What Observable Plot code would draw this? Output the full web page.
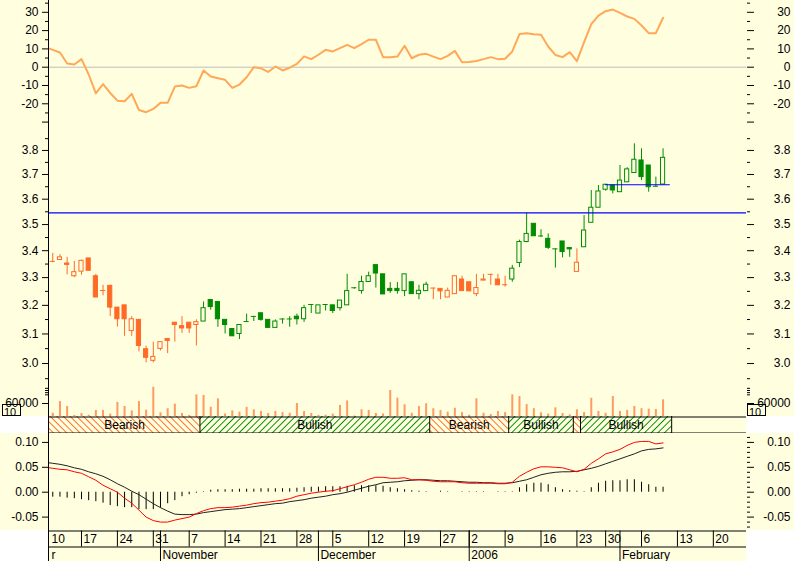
<!DOCTYPE html>
<html><head><meta charset="utf-8">
<script src="https://cdn.jsdelivr.net/npm/d3@7"></script>
<script src="https://cdn.jsdelivr.net/npm/@observablehq/plot@0.6"></script>
<style>
html,body{margin:0;padding:0;background:#fff;}
#chart{position:relative;width:794px;height:561px;overflow:hidden;background:#fff;font-family:"Liberation Sans",Arial,sans-serif;}
</style></head><body><div id="chart"></div>
<script>
// ---------------- DATA (trading-day index t: Oct 10 2005 = 0) ----------------
const momentum = [11, 9.5, 8, 2, 1.5, 4.4, -4, -14.3, -9.2, -14.1,
  -18.3, -18.6, -14.6, -23.4, -24.6, -22.8, -19.5, -19.5, -10.6, -10,
  -11.3, -10.4, -1.8, -5.1, -6, -6.9, -11.3, -9.5, -5.5, 0,
  -0.6, -2.6, 0.4, -1.8, -0.3, 1.8, 5.9, 4.4, 6.8, 9.5,
  8.6, 10.4, 12.2, 10.4, 12.6, 15, 15, 5.5, 5.5, 5.8,
  11.7, 4.9, 6.8, 7.3, 5.8, 4.4, 6.2, 8.9, 2.7, 2.9,
  3.4, 4.4, 5.5, 4.4, 4.6, 8.6, 18.1, 18.6, 18, 17.7,
  11.3, 6.7, 5.5, 8.2, 3.3, 13.7, 23.5, 28.2, 30.6, 31.5,
  29.7, 27.7, 26.4, 22.8, 18.6, 18.6, 27];

// candles t = 1..86
const opens = [3.36, 3.365, 3.352, 3.305, 3.322, 3.371, 3.305, 3.253, 3.27, 3.192,
  3.2, 3.11, 3.149, 3.048, 3.009, 3.049, 3.083, 3.139, 3.127, 3.139,
  3.131, 3.143, 3.219, 3.212, 3.149, 3.117, 3.10, 3.143, 3.161, 3.172,
  3.149, 3.121, 3.152, 3.152, 3.16, 3.151, 3.203, 3.171, 3.203, 3.2,
  3.19, 3.2, 3.263, 3.251, 3.284, 3.346, 3.312, 3.259, 3.259, 3.251,
  3.283, 3.24, 3.251, 3.262, 3.259, 3.228, 3.24, 3.293, 3.283, 3.24,
  3.289, 3.312, 3.293, 3.274, 3.293, 3.354, 3.433, 3.503, 3.456, 3.445,
  3.407, 3.435, 3.41, 3.321, 3.413, 3.507, 3.566, 3.638, 3.655, 3.628,
  3.668, 3.706, 3.758, 3.737, 3.652, 3.659];
const highs = [3.39, 3.385, 3.375, 3.36, 3.365, 3.371, 3.312, 3.272, 3.272, 3.192,
  3.2, 3.16, 3.149, 3.058, 3.072, 3.072, 3.083, 3.139, 3.16, 3.139,
  3.149, 3.212, 3.219, 3.212, 3.149, 3.117, 3.131, 3.169, 3.161, 3.172,
  3.149, 3.149, 3.152, 3.16, 3.169, 3.2, 3.203, 3.2, 3.203, 3.2,
  3.217, 3.312, 3.263, 3.305, 3.32, 3.346, 3.312, 3.282, 3.282, 3.312,
  3.283, 3.272, 3.283, 3.262, 3.259, 3.262, 3.305, 3.305, 3.283, 3.312,
  3.312, 3.312, 3.312, 3.305, 3.345, 3.44, 3.545, 3.503, 3.48, 3.464,
  3.407, 3.435, 3.41, 3.407, 3.535, 3.635, 3.655, 3.66, 3.655, 3.737,
  3.728, 3.828, 3.807, 3.737, 3.689, 3.807];
const lows = [3.355, 3.365, 3.31, 3.30, 3.309, 3.325, 3.228, 3.234, 3.161, 3.124,
  3.092, 3.092, 3.039, 3.002, 3.002, 3.042, 3.033, 3.072, 3.102, 3.102,
  3.059, 3.143, 3.183, 3.123, 3.10, 3.092, 3.081, 3.143, 3.143, 3.144,
  3.121, 3.121, 3.134, 3.123, 3.131, 3.14, 3.171, 3.171, 3.18, 3.171,
  3.18, 3.2, 3.258, 3.24, 3.284, 3.262, 3.239, 3.243, 3.24, 3.231,
  3.24, 3.22, 3.251, 3.22, 3.22, 3.228, 3.24, 3.251, 3.25, 3.231,
  3.289, 3.272, 3.272, 3.265, 3.283, 3.337, 3.43, 3.455, 3.45, 3.405,
  3.335, 3.373, 3.375, 3.321, 3.413, 3.507, 3.566, 3.632, 3.621, 3.628,
  3.668, 3.706, 3.675, 3.628, 3.648, 3.659];
const closes = [3.36, 3.375, 3.347, 3.32, 3.362, 3.325, 3.228, 3.253, 3.192, 3.151,
  3.151, 3.151, 3.059, 3.019, 3.022, 3.072, 3.076, 3.131, 3.119, 3.119,
  3.141, 3.19, 3.194, 3.151, 3.131, 3.092, 3.131, 3.143, 3.161, 3.149,
  3.121, 3.143, 3.152, 3.152, 3.151, 3.19, 3.203, 3.2, 3.203, 3.18,
  3.217, 3.251, 3.263, 3.284, 3.305, 3.315, 3.239, 3.251, 3.251, 3.312,
  3.24, 3.252, 3.274, 3.262, 3.25, 3.252, 3.305, 3.251, 3.25, 3.262,
  3.293, 3.312, 3.272, 3.274, 3.333, 3.433, 3.464, 3.455, 3.456, 3.411,
  3.407, 3.395, 3.405, 3.355, 3.477, 3.566, 3.631, 3.658, 3.635, 3.675,
  3.721, 3.761, 3.689, 3.648, 3.652, 3.769];
const volumes = [15000, 69000, 46000, 5000, 14000, 6000, 28000, 28000, 11000, 65000,
  46000, 26000, 69000, 29000, 135000, 17000, 36000, 57000, 14000, 5000,
  100000, 97000, 43000, 82000, 12000, 26000, 20000, 42000, 31000, 23000,
  14000, 23000, 18000, 15000, 60000, 23000, 14000, 5000, 6000, 11000,
  51000, 72000, 2000, 31000, 28000, 14000, 12000, 120000, 85000, 54000,
  15000, 46000, 59000, 36000, 28000, 20000, 38000, 18000, 6000, 82000,
  15000, 9000, 23000, 18000, 100000, 92000, 55000, 36000, 17000, 11000,
  40000, 14000, 8000, 31000, 18000, 84000, 23000, 15000, 92000, 23000,
  28000, 46000, 36000, 34000, 32000, 77000];

// support / resistance levels
const levels = [{price: 3.546, from: null, to: null}, {price: 3.658, from: 78, to: 87}];

// trend bands (edges in t)
const bands = [
  {from: 0.5, to: 21.5, kind: "bear", label: "Bearish"},
  {from: 21.5, to: 53.5, kind: "bull", label: "Bullish"},
  {from: 53.5, to: 64.5, kind: "bear", label: "Bearish"},
  {from: 64.5, to: 73.5, kind: "bull", label: "Bullish"},
  {from: 73.5, to: 74.5, kind: "bear", label: ""},
  {from: 74.5, to: 87.2, kind: "bull", label: "Bullish"}];

// MACD t = 0..86, histogram t = 1..86
const macd = [0.050, 0.048, 0.046, 0.045, 0.041, 0.038, 0.031, 0.024, 0.014, 0.007,
  0.000, -0.012, -0.022, -0.036, -0.050, -0.057, -0.060, -0.060, -0.056, -0.053,
  -0.050, -0.043, -0.037, -0.033, -0.031, -0.031, -0.030, -0.028, -0.026, -0.023,
  -0.021, -0.020, -0.018, -0.016, -0.013, -0.008, -0.005, -0.002, 0.000, 0.002,
  0.003, 0.007, 0.011, 0.015, 0.020, 0.026, 0.030, 0.030, 0.028, 0.028,
  0.029, 0.025, 0.025, 0.024, 0.022, 0.021, 0.021, 0.021, 0.019, 0.018,
  0.018, 0.018, 0.018, 0.017, 0.017, 0.020, 0.032, 0.040, 0.047, 0.051,
  0.051, 0.050, 0.049, 0.045, 0.041, 0.046, 0.058, 0.067, 0.077, 0.081,
  0.086, 0.094, 0.100, 0.102, 0.102, 0.097, 0.099];
const signal = [0.060, 0.058, 0.056, 0.053, 0.049, 0.046, 0.041, 0.037, 0.032, 0.025,
  0.017, 0.010, 0.002, -0.005, -0.014, -0.023, -0.031, -0.038, -0.044, -0.045,
  -0.045, -0.044, -0.041, -0.039, -0.037, -0.035, -0.034, -0.033, -0.031, -0.029,
  -0.027, -0.025, -0.023, -0.022, -0.019, -0.017, -0.015, -0.012, -0.010, -0.008,
  -0.005, -0.003, 0.000, 0.004, 0.008, 0.012, 0.015, 0.019, 0.020, 0.021,
  0.023, 0.024, 0.025, 0.025, 0.024, 0.023, 0.023, 0.022, 0.021, 0.020,
  0.020, 0.019, 0.019, 0.018, 0.018, 0.019, 0.022, 0.025, 0.030, 0.035,
  0.038, 0.040, 0.041, 0.041, 0.042, 0.045, 0.048, 0.052, 0.057, 0.062,
  0.067, 0.072, 0.077, 0.083, 0.086, 0.087, 0.089];
const hist = [-0.010, -0.010, -0.012, -0.013, -0.015, -0.017, -0.019, -0.022, -0.027, -0.029,
  -0.031, -0.031, -0.035, -0.035, -0.035, -0.032, -0.023, -0.017, -0.009, -0.005,
  -0.002, 0.001, 0.004, 0.005, 0.005, 0.005, 0.006, 0.006, 0.006, 0.007,
  0.007, 0.007, 0.007, 0.007, 0.008, 0.009, 0.010, 0.010, 0.011, 0.011,
  0.011, 0.012, 0.013, 0.013, 0.013, 0.013, 0.012, 0.009, 0.007, 0.005,
  0.003, 0.002, 0.001, 0.000, 0.002, 0.001, 0.000, 0.001, 0.001, 0.001,
  0.001, 0.000, 0.001, 0.001, 0.001, 0.009, 0.015, 0.018, 0.018, 0.015,
  0.009, 0.005, 0.003, 0.002, 0.001, 0.009, 0.018, 0.022, 0.023, 0.023,
  0.025, 0.025, 0.020, 0.015, 0.010, 0.010];

// axis labels
const dayTicks = [{t: 0, label: "10"}, {t: 5, label: "17"}, {t: 10, label: "24"}, {t: 15, label: "31"},
  {t: 20, label: "7"}, {t: 25, label: "14"}, {t: 30, label: "21"}, {t: 35, label: "28"},
  {t: 40, label: "5"}, {t: 45, label: "12"}, {t: 50, label: "19"}, {t: 55, label: "27"},
  {t: 59, label: "2"}, {t: 64, label: "9"}, {t: 69, label: "16"}, {t: 74, label: "23"},
  {t: 78, label: "30"}, {t: 83, label: "6"}, {t: 88, label: "13"}, {t: 93, label: "20"}];
const months = [{t: null, label: "r"}, {t: 16, label: "November"}, {t: 38, label: "December"},
  {t: 59, label: "2006"}, {t: 80, label: "February"}];

const momMajor = [-30, -20, -10, 0, 10, 20, 30];
const momMinor = [-25, -15, -5, 5, 15, 25, 35];
const priceMajor = [3.0, 3.1, 3.2, 3.3, 3.4, 3.5, 3.6, 3.7, 3.8];
const priceMinor = [2.95, 3.05, 3.15, 3.25, 3.35, 3.45, 3.55, 3.65, 3.75, 3.85];
const volMajor = [60000];
const volMinor = [100000, 110000, 120000, 130000];
const macdMajor = [-0.05, 0, 0.05, 0.10];
const macdMinor = [-0.07, -0.06, -0.04, -0.03, -0.02, -0.01, 0.01, 0.02, 0.03, 0.04, 0.06, 0.07, 0.08, 0.09, 0.11];

// ---------------- STYLE ----------------
const BG = "#FFFFE0", ORANGE = "#FF6A26", GREEN = "#008C00";
const FONT = '"Liberation Sans", Arial, sans-serif';
const W = 794, ML = 48, MR = 48;
const xDomain = [0.404, 97.62];

const chart = document.getElementById("chart");
chart.insertAdjacentHTML("beforeend", `
<svg width="0" height="0" style="position:absolute">
 <defs>
  <pattern id="hBear" patternUnits="userSpaceOnUse" width="4.7" height="20" patternTransform="rotate(-45)">
   <line x1="2" y1="-1" x2="2" y2="21" stroke="${ORANGE}" stroke-width="1" shape-rendering="crispEdges"/>
  </pattern>
  <pattern id="hBull" patternUnits="userSpaceOnUse" width="4.7" height="20" patternTransform="rotate(45)">
   <line x1="2" y1="-1" x2="2" y2="21" stroke="${GREEN}" stroke-width="1" shape-rendering="crispEdges"/>
  </pattern>
 </defs>
</svg>`);

function place(el, top) {
  el.style.position = "absolute"; el.style.left = "0px"; el.style.top = top + "px";
  chart.appendChild(el);
}
const base = (h, bg) => ({
  width: W, height: h, marginLeft: ML, marginRight: MR, marginTop: 0, marginBottom: 0,
  x: {domain: xDomain, axis: null},
  style: {background: bg, fontFamily: FONT, fontSize: "12px", color: "black"}
});
const leftAxis = (ticks, fmt) => Plot.axisY(ticks, {anchor: "left", tickSize: 6, tickPadding: 4, fontSize: 12, label: null, tickFormat: fmt});
const rightAxis = (ticks, fmt) => Plot.axisY(ticks, {anchor: "right", tickSize: 7, tickPadding: 37, textAnchor: "end", fontSize: 12, label: null, tickFormat: fmt});
const leftMinor = ticks => Plot.axisY(ticks, {anchor: "left", tickSize: 3, label: null, tickFormat: () => ""});
const rightMinor = ticks => Plot.axisY(ticks, {anchor: "right", tickSize: 3, label: null, tickFormat: () => ""});
const axisLine = () => Plot.ruleX([xDomain[0]], {stroke: "black"});

// ---------------- PANEL A: momentum ----------------
const momData = momentum.map((v, t) => ({t, v}));
const momFmt = d => d === -30 ? "" : String(d);
place(Plot.plot({
  ...base(130, BG),
  y: {domain: [-34.6, 36.45]},
  marks: [
    Plot.ruleY([0], {stroke: "#BDBDBD"}),
    Plot.line(momData, {x: "t", y: "v", stroke: "#FFA858", strokeWidth: 2, clip: true}),
    axisLine(),
    leftAxis(momMajor, momFmt), leftMinor(momMinor),
    rightAxis(momMajor, momFmt), rightMinor(momMinor)
  ]
}), 0);

// ---------------- PANEL B: price candles ----------------
const regime = t => bands.find(b => t > b.from && t < b.to).kind;
const candles = opens.map((o, i) => ({t: i + 1, open: o, high: highs[i], low: lows[i], close: closes[i]}));
candles.forEach(c => { c.color = regime(c.t) === "bear" ? ORANGE : GREEN; });
const isDoji = c => Math.abs(c.open - c.close) < 0.002;
const HW = 0.29;
const priceFmt = d => d.toFixed(1);
place(Plot.plot({
  ...base(254, BG),
  y: {type: "log", domain: [2.931, 3.885]},
  marks: [
    Plot.ruleX(candles, {x: "t", y1: "low", y2: "high", stroke: "color", strokeWidth: 1}),
    Plot.rect(candles.filter(c => !isDoji(c)), {
      x1: d => d.t - HW, x2: d => d.t + HW, y1: "open", y2: "close",
      stroke: "color", strokeWidth: 1,
      fill: d => d.close < d.open ? d.color : BG
    }),
    Plot.ruleY(candles.filter(isDoji), {x1: d => d.t - HW - 0.07, x2: d => d.t + HW + 0.07, y: "open", stroke: "color"}),
    Plot.ruleY(levels.filter(l => l.from === null), {y: "price", stroke: "#0000FF", strokeWidth: 1.2}),
    Plot.ruleY(levels.filter(l => l.from !== null), {y: "price", x1: "from", x2: "to", stroke: "#0000FF", strokeWidth: 1.2}),
    axisLine(),
    leftAxis(priceMajor, priceFmt), leftMinor(priceMinor),
    rightAxis(priceMajor, priceFmt), rightMinor(priceMinor)
  ]
}), 130);

// ---------------- PANEL C: volume ----------------
const volData = volumes.map((v, i) => ({t: i + 1, v}));
place(Plot.plot({
  ...base(32, BG),
  y: {domain: [0, 147700]},
  marks: [
    Plot.ruleX(volData, {x: "t", y1: 0, y2: "v", stroke: "#FF9A62", strokeWidth: 2}),
    axisLine(),
    leftAxis(volMajor, d => String(d)), leftMinor(volMinor),
    rightAxis(volMajor, d => String(d)), rightMinor(volMinor)
  ]
}), 384);

// ---------------- PANEL D: trend bands ----------------
place(Plot.plot({
  ...base(17, "transparent"),
  y: {domain: [0, 1], range: [0.5, 16.5], axis: null},
  marks: [
    Plot.frame({fill: BG, stroke: "none"}),
    Plot.rect(bands.filter(b => b.kind === "bear"), {x1: "from", x2: "to", fill: "url(#hBear)"}),
    Plot.rect(bands.filter(b => b.kind === "bull"), {x1: "from", x2: "to", fill: "url(#hBull)"}),
    Plot.ruleX(bands, {x: "to", stroke: "black"}),
    Plot.ruleY([0, 1], {stroke: "black"}),
    axisLine(),
    Plot.text(bands, {x: d => (d.from + d.to) / 2, text: "label", fontSize: 12, fill: "black"})
  ]
}), 416);

// ---------------- PANEL E: MACD ----------------
const macdData = macd.map((v, t) => ({t, v}));
const sigData = signal.map((v, t) => ({t, v}));
const histData = hist.map((v, i) => ({t: i + 1, v}));
const macdFmt = d => d.toFixed(2);
place(Plot.plot({
  ...base(97, BG),
  y: {domain: [-0.0769, 0.1179]},
  marks: [
    Plot.ruleX(histData, {x: "t", y1: 0, y2: "v", stroke: "black", strokeWidth: 1}),
    Plot.line(sigData, {x: "t", y: "v", stroke: "#202020", strokeWidth: 1, clip: true}),
    Plot.line(macdData, {x: "t", y: "v", stroke: "#FF0000", strokeWidth: 1, clip: true}),
    axisLine(),
    leftAxis(macdMajor, macdFmt),
    rightAxis(macdMajor, macdFmt), rightMinor(macdMinor)
  ]
}), 433);

// ---------------- PANEL F: date axis ----------------
const inX = t => t >= xDomain[0] && t <= xDomain[1];
place(Plot.plot({
  ...base(31, "transparent"),
  y: {domain: [0, 2], range: [0.5, 32.5], axis: null},
  marks: [
    Plot.frame({fill: BG, stroke: "none"}),
    Plot.ruleY([0, 1], {stroke: "black"}),
    axisLine(),
    Plot.ruleX(dayTicks.filter(d => inX(d.t)), {x: "t", y1: 0, y2: 1, stroke: "black"}),
    Plot.ruleX(months.filter(m => m.t !== null), {x: "t", y1: 0, y2: 2, stroke: "black"}),
    Plot.text(dayTicks, {x: d => Math.max(d.t, xDomain[0] + 0.15), y: 0.5, text: "label", textAnchor: "start", dx: 2, fontSize: 12, fill: "black"}),
    Plot.text(months, {x: d => d.t === null ? xDomain[0] + 0.15 : d.t, y: 1.5, text: "label", textAnchor: "start", dx: 2, fontSize: 12, fill: "black"})
  ]
}), 530);

// small "10" boxes beside the volume labels
chart.insertAdjacentHTML("beforeend", `
<svg width="794" height="561" style="position:absolute;left:0;top:0;pointer-events:none" font-family='${FONT}' font-size="11">
 <rect x="2.5" y="404.5" width="18" height="11" fill="none" stroke="black"/>
 <text x="4" y="415.5">10</text>
 <rect x="747.5" y="404.5" width="18" height="11" fill="none" stroke="black"/>
 <text x="749" y="415.5">10</text>
</svg>`);
</script></body></html>
